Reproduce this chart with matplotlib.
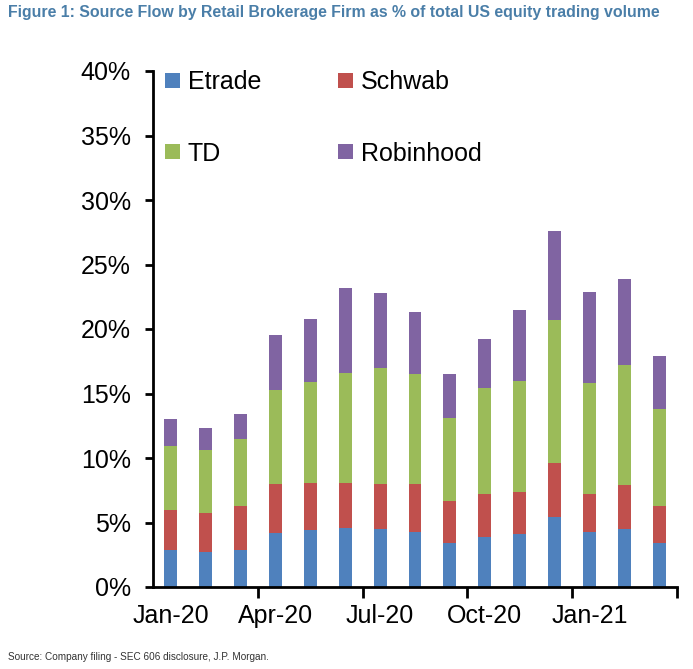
import matplotlib
matplotlib.use("Agg")
import matplotlib.pyplot as plt
import numpy as np
from matplotlib.patches import Patch

months = ["Jan-20", "Feb-20", "Mar-20", "Apr-20", "May-20", "Jun-20", "Jul-20",
          "Aug-20", "Sep-20", "Oct-20", "Nov-20", "Dec-20", "Jan-21", "Feb-21", "Mar-21"]
tick_labels = ["Jan-20", "Apr-20", "Jul-20", "Oct-20", "Jan-21"]
etrade = [2.9, 2.7, 2.9, 4.2, 4.4, 4.6, 4.5, 4.3, 3.4, 3.9, 4.1, 5.4, 4.3, 4.5, 3.4]
schwab = [3.1, 3.0, 3.4, 3.8, 3.7, 3.5, 3.5, 3.7, 3.3, 3.3, 3.3, 4.2, 2.9, 3.4, 2.9]
td = [4.9, 4.9, 5.2, 7.3, 7.8, 8.5, 9.0, 8.5, 6.4, 8.2, 8.6, 11.1, 8.6, 9.3, 7.5]
robinhood = [2.1, 1.7, 1.9, 4.2, 4.9, 6.6, 5.8, 4.8, 3.4, 3.8, 5.5, 6.9, 7.1, 6.7, 4.1]

FONT = ["Liberation Sans Narrow", "Liberation Sans", "DejaVu Sans"]
plt.rcParams['font.family'] = FONT

fig = plt.figure(figsize=(6.93, 6.69), dpi=100)
ax = fig.add_axes([153/693, (669-587)/669, 524/693, (587-71)/669])

x = np.arange(len(months))
w = 0.37
series = [("Etrade", etrade, "#4F81BD"), ("Schwab", schwab, "#C0504D"),
          ("TD", td, "#9BBB59"), ("Robinhood", robinhood, "#8064A2")]
bottom = np.zeros(len(months))
handles = {}
for name, vals, col in series:
    v = np.array(vals)
    ax.bar(x, v, w, bottom=bottom, color=col, edgecolor='none')
    bottom += v
    handles[name] = Patch(facecolor=col, edgecolor='none')

ax.set_xlim(-0.5, 14.5)
ax.set_ylim(0, 40)
ax.set_yticks(np.arange(0, 41, 5))
ax.set_yticklabels([f"{v}%" for v in range(0, 41, 5)], fontsize=18)
ax.set_xticks(np.arange(2.5, 15, 3))
ax.set_xticklabels([])
ax.set_xticks(np.arange(0, 15, 3), minor=True)
ax.set_xticklabels(tick_labels, minor=True, fontsize=18)
ax.tick_params(axis='x', which='major', length=8, width=2, direction='out')
ax.tick_params(axis='x', which='minor', length=0, pad=12)
ax.tick_params(axis='y', length=6, width=2, direction='out', pad=10)
for s in ['top', 'right']:
    ax.spines[s].set_visible(False)
for s in ['left', 'bottom']:
    ax.spines[s].set_linewidth(2)

order = ["Etrade", "TD", "Schwab", "Robinhood"]
leg = ax.legend([handles[n] for n in order], order, ncol=2, loc='upper left',
                bbox_to_anchor=(-0.02, 1.045), frameon=False, fontsize=18,
                handlelength=0.6, handleheight=0.55, handletextpad=0.3,
                labelspacing=1.9, columnspacing=3.1)

fig.text(8/693, 1-13/669, "Figure 1: Source Flow by Retail Brokerage Firm as % of total US equity trading volume",
         fontsize=11.4, fontweight='bold', color="#4A7EA8", va='center', ha='left')
fig.text(8/693, 1-657/669, "Source: Company filing - SEC 606 disclosure, J.P. Morgan.",
         fontsize=7.2, color="#333333", va='center', ha='left')

fig.savefig("out.png", dpi=100)
